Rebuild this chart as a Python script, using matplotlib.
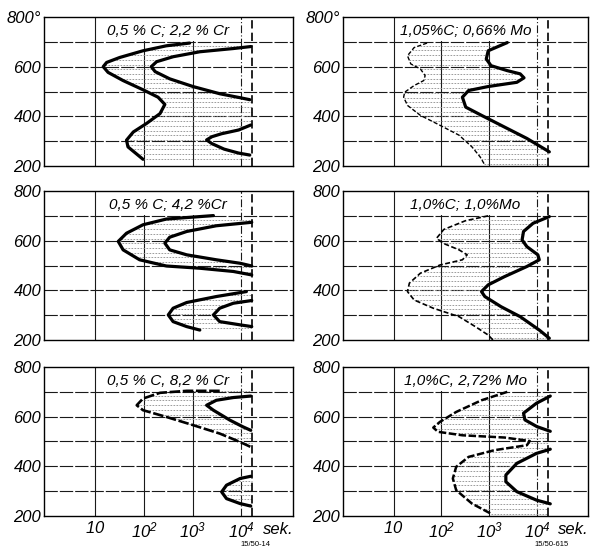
import numpy as np
import matplotlib
matplotlib.use("Agg")
import matplotlib.pyplot as plt
from matplotlib.patches import Rectangle

plt.rcParams['font.family'] = ['Liberation Sans', 'DejaVu Sans']
plt.rcParams['mathtext.default'] = 'regular'

# ---------------- data (log10 of time in seconds, temperature in deg C) -------------
titles = ['0,5 % C; 2,2 % Cr', '1,05%C; 0,66% Mo',
          '0,5 % C; 4,2 %Cr', '1,0%C; 1,0%Mo',
          '0,5 % C, 8,2 % Cr', '1,0%C, 2,72% Mo']

# panel 1: 0,5 % C; 2,2 % Cr
p1_start_logt = [2.94, 2.46, 1.98, 1.50, 1.23, 1.16, 1.26, 1.57, 1.98, 2.29, 2.43, 2.33, 2.05, 1.78, 1.64, 1.67, 1.85, 1.98]
p1_start_T    = [695, 684, 664, 637, 617, 600, 577, 544, 507, 477, 448, 411, 371, 337, 304, 277, 248, 227]
p1_end1_logt  = [4.20, 3.84, 3.15, 2.60, 2.26, 2.15, 2.23, 2.53, 3.01, 3.56, 3.98, 4.18]
p1_end1_T     = [681, 673, 660, 640, 620, 600, 580, 551, 520, 491, 475, 467]
p1_end2_logt  = [4.20, 3.95, 3.60, 3.40, 3.29, 3.40, 3.65, 3.95, 4.18]
p1_end2_T     = [365, 345, 330, 318, 305, 290, 268, 252, 244]

# panel 2: 1,05 % C; 0,66 % Mo
p2_start_logt = [1.70, 1.43, 1.29, 1.36, 1.56, 1.66, 1.63, 1.43, 1.23, 1.21, 1.29, 1.56, 1.97, 2.37, 2.64, 2.81, 2.91]
p2_start_T    = [695, 677, 644, 611, 591, 564, 544, 524, 497, 477, 444, 404, 364, 324, 277, 237, 204]
p2_end_logt   = [3.38, 2.98, 2.94, 3.04, 3.38, 3.65, 3.73, 3.58, 2.98, 2.57, 2.44, 2.51, 2.84, 3.32, 3.79, 4.26]
p2_end_T      = [697, 664, 631, 604, 584, 571, 555, 537, 520, 504, 477, 437, 404, 357, 311, 257]

# panel 3: 0,5 % C; 4,2 % Cr
p3_start1_logt = [3.43, 2.46, 1.98, 1.64, 1.47, 1.57, 1.91, 2.46, 3.15, 3.84, 4.22]
p3_start1_T    = [701, 687, 664, 630, 597, 563, 523, 498, 489, 476, 462]
p3_end1_logt   = [4.22, 3.49, 2.88, 2.53, 2.43, 2.53, 2.88, 3.49, 3.98, 4.22]
p3_end1_T      = [674, 660, 637, 614, 590, 563, 543, 523, 509, 498]
p3_start2_logt = [4.11, 3.49, 2.88, 2.60, 2.50, 2.60, 2.88, 3.15]
p3_start2_T    = [395, 375, 351, 328, 301, 274, 254, 240]
p3_end2_logt   = [4.22, 3.84, 3.56, 3.43, 3.56, 3.98, 4.22]
p3_end2_T      = [359, 348, 328, 301, 274, 261, 254]

# panel 4: 1,0 % C; 1,0 % Mo
p4_start_logt = [2.98, 2.50, 2.05, 1.90, 2.03, 2.37, 2.54, 2.44, 1.97, 1.56, 1.33, 1.29, 1.43, 1.83, 2.37, 2.71, 2.98, 3.08]
p4_start_T    = [700, 680, 645, 610, 590, 563, 543, 523, 502, 469, 429, 395, 361, 328, 294, 254, 220, 200]
p4_end_logt   = [4.26, 3.92, 3.72, 3.69, 3.79, 4.02, 4.05, 3.79, 3.32, 2.98, 2.84, 2.91, 3.25, 3.65, 4.05, 4.26]
p4_end_T      = [697, 670, 637, 603, 576, 543, 523, 496, 455, 422, 395, 375, 334, 294, 240, 207]

# panel 5: 0,5 % C, 8,2 % Cr
p5_start1_logt = [3.56, 2.88, 2.33, 1.98, 1.85, 1.98, 2.46, 3.01, 3.56, 3.98, 4.20]
p5_start1_T    = [704, 704, 696, 673, 646, 626, 599, 566, 532, 498, 478]
p5_end1_logt   = [4.20, 3.84, 3.49, 3.29, 3.43, 3.77, 4.04, 4.20]
p5_end1_T      = [683, 677, 666, 646, 626, 586, 559, 545]
p5_start2_logt = [4.20, 3.98, 3.70, 3.60, 3.70, 3.98, 4.20]
p5_start2_T    = [360, 351, 324, 297, 270, 250, 240]

# panel 6: 1,0 % C, 2,72 % Mo
p6_start_logt = [3.38, 2.84, 2.31, 1.97, 1.83, 1.93, 2.44, 3.32, 3.85, 3.79, 3.11, 2.57, 2.31, 2.24, 2.31, 2.64, 3.04]
p6_start_T    = [700, 666, 619, 579, 556, 539, 525, 516, 502, 485, 465, 438, 398, 351, 304, 250, 209]
p6_end1_logt  = [4.28, 3.99, 3.72, 3.75, 4.00, 4.28]
p6_end1_T     = [683, 654, 614, 587, 560, 541]
p6_end2_logt  = [4.28, 3.99, 3.58, 3.35, 3.35, 3.58, 3.99, 4.28]
p6_end2_T     = [469, 452, 412, 365, 338, 298, 264, 249]

limit_logt = 4.23           # vertical dashed line (end of observation)
grid_t = [10, 100, 1000]
grid_t4 = 1e4
grid_T = [300, 400, 500, 600, 700]
ytick_vals = [200, 400, 600, 800]
xtick_vals = [10, 100, 1000, 10000]
xtick_labels = [r'$10$', r'$10^{2}$', r'$10^{3}$', r'$10^{4}$']
codes = ['15/50-14', '15/50-615']

# --------------------------------------------------------------------------------------
W, H = 594, 549
fig = plt.figure(figsize=(W / 100, H / 100), dpi=100)

col_x = [(44, 293), (343, 588)]
row_y = [(17, 166), (191, 340), (367, 516)]

THICK = 2.3
def curve(ax, logt, T, style='solid', lw=THICK):
    ax.plot(np.power(10.0, logt), T, color='black', lw=lw, ls=style,
            solid_capstyle='round', zorder=5)

def hatch(ax, start_logt, start_T, ends, step=19):
    sT = np.array(start_T)[::-1]
    sx = np.array(start_logt)[::-1]
    Ts = np.arange(200 + step / 2, 800, step)
    Ts = Ts[(Ts >= sT.min()) & (Ts <= sT.max())]
    for T in Ts:
        left = np.interp(T, sT, sx)
        right = limit_logt
        for (elt, eT) in ends:
            eT_a = np.array(eT)[::-1]
            ex = np.array(elt)[::-1]
            if eT_a.min() <= T <= eT_a.max():
                right = np.interp(T, eT_a, ex)
        if right > left:
            ax.hlines(T, 10 ** left, 10 ** right, colors='0.55', lw=0.6,
                      linestyles=(0, (2.0, 1.6)), zorder=3)

axes = []
for r in range(3):
    for c in range(2):
        x0, x1 = col_x[c]
        y0, y1 = row_y[r]
        ax = fig.add_axes([x0 / W, (H - y1) / H, (x1 - x0) / W, (y1 - y0) / H])
        ax.set_xscale('log')
        ax.set_xlim(10 ** -0.06, 10 ** 5.07)
        ax.set_ylim(200, 800)
        for g in grid_t:
            ax.axvline(g, color='0.1', lw=0.8, zorder=1)
        ax.axvline(grid_t4, color='0.1', lw=0.8, ls=(0, (7, 2, 1, 2)), zorder=1)
        ax.add_patch(Rectangle((12, 703), 9000 - 12, 97, fc='white', ec='none', zorder=1.5))
        for g in grid_T:
            ax.axhline(g, color='0.1', lw=0.8, ls=(0, (12, 1.8)), zorder=2)
        ax.axvline(10 ** limit_logt, color='black', lw=1.2, ls=(0, (5, 2.5)), zorder=4)
        ax.set_yticks(ytick_vals)
        labs = [str(v) for v in ytick_vals]
        if r == 0:
            labs[-1] = '800°'
        ax.set_yticklabels(labs, fontsize=12, style='italic')
        ax.minorticks_off()
        ax.tick_params(length=0, pad=2)
        if r == 2:
            ax.set_xticks(xtick_vals)
            ax.set_xticklabels(xtick_labels, fontsize=12, style='italic')
            ax.tick_params(axis='x', pad=3)
            ax.text(10 ** 4.45, -0.09, 'sek.', transform=ax.get_xaxis_transform(),
                    fontsize=12, style='italic', ha='left', va='center')
            ax.text(10 ** 4.3, -0.19, codes[c], transform=ax.get_xaxis_transform(),
                    fontsize=5.5, ha='center', va='center')
        else:
            ax.set_xticks([])
        for s in ax.spines.values():
            s.set_linewidth(1.0)
        ax.text(10 ** 2.5, 742, titles[r * 2 + c], fontsize=11, style='italic',
                ha='center', va='center', zorder=6)
        axes.append(ax)

# panel 1
ax = axes[0]
hatch(ax, p1_start_logt, p1_start_T, [(p1_end1_logt, p1_end1_T), (p1_end2_logt, p1_end2_T)])
curve(ax, p1_start_logt, p1_start_T)
curve(ax, p1_end1_logt, p1_end1_T)
curve(ax, p1_end2_logt, p1_end2_T)

# panel 2
ax = axes[1]
hatch(ax, p2_start_logt, p2_start_T, [(p2_end_logt, p2_end_T)])
curve(ax, p2_start_logt, p2_start_T, style=(0, (3, 1.5)), lw=1.0)
curve(ax, p2_end_logt, p2_end_T)

# panel 3
ax = axes[2]
hatch(ax, p3_start1_logt, p3_start1_T, [(p3_end1_logt, p3_end1_T)])
hatch(ax, p3_start2_logt, p3_start2_T, [(p3_end2_logt, p3_end2_T)])
curve(ax, p3_start1_logt, p3_start1_T)
curve(ax, p3_end1_logt, p3_end1_T)
curve(ax, p3_start2_logt, p3_start2_T)
curve(ax, p3_end2_logt, p3_end2_T)

# panel 4
ax = axes[3]
hatch(ax, p4_start_logt, p4_start_T, [(p4_end_logt, p4_end_T)])
curve(ax, p4_start_logt, p4_start_T, style=(0, (3, 1.5)), lw=1.2)
curve(ax, p4_end_logt, p4_end_T)

# panel 5
ax = axes[4]
hatch(ax, p5_start1_logt, p5_start1_T, [(p5_end1_logt, p5_end1_T)])
hatch(ax, p5_start2_logt, p5_start2_T, [])
curve(ax, p5_start1_logt, p5_start1_T, style=(0, (4, 1)), lw=1.9)
curve(ax, p5_end1_logt, p5_end1_T)
curve(ax, p5_start2_logt, p5_start2_T)

# panel 6
ax = axes[5]
hatch(ax, p6_start_logt, p6_start_T, [(p6_end1_logt, p6_end1_T), (p6_end2_logt, p6_end2_T)])
curve(ax, p6_start_logt, p6_start_T, style=(0, (3, 1)), lw=1.8)
curve(ax, p6_end1_logt, p6_end1_T)
curve(ax, p6_end2_logt, p6_end2_T)

fig.savefig('out.png', dpi=100)
